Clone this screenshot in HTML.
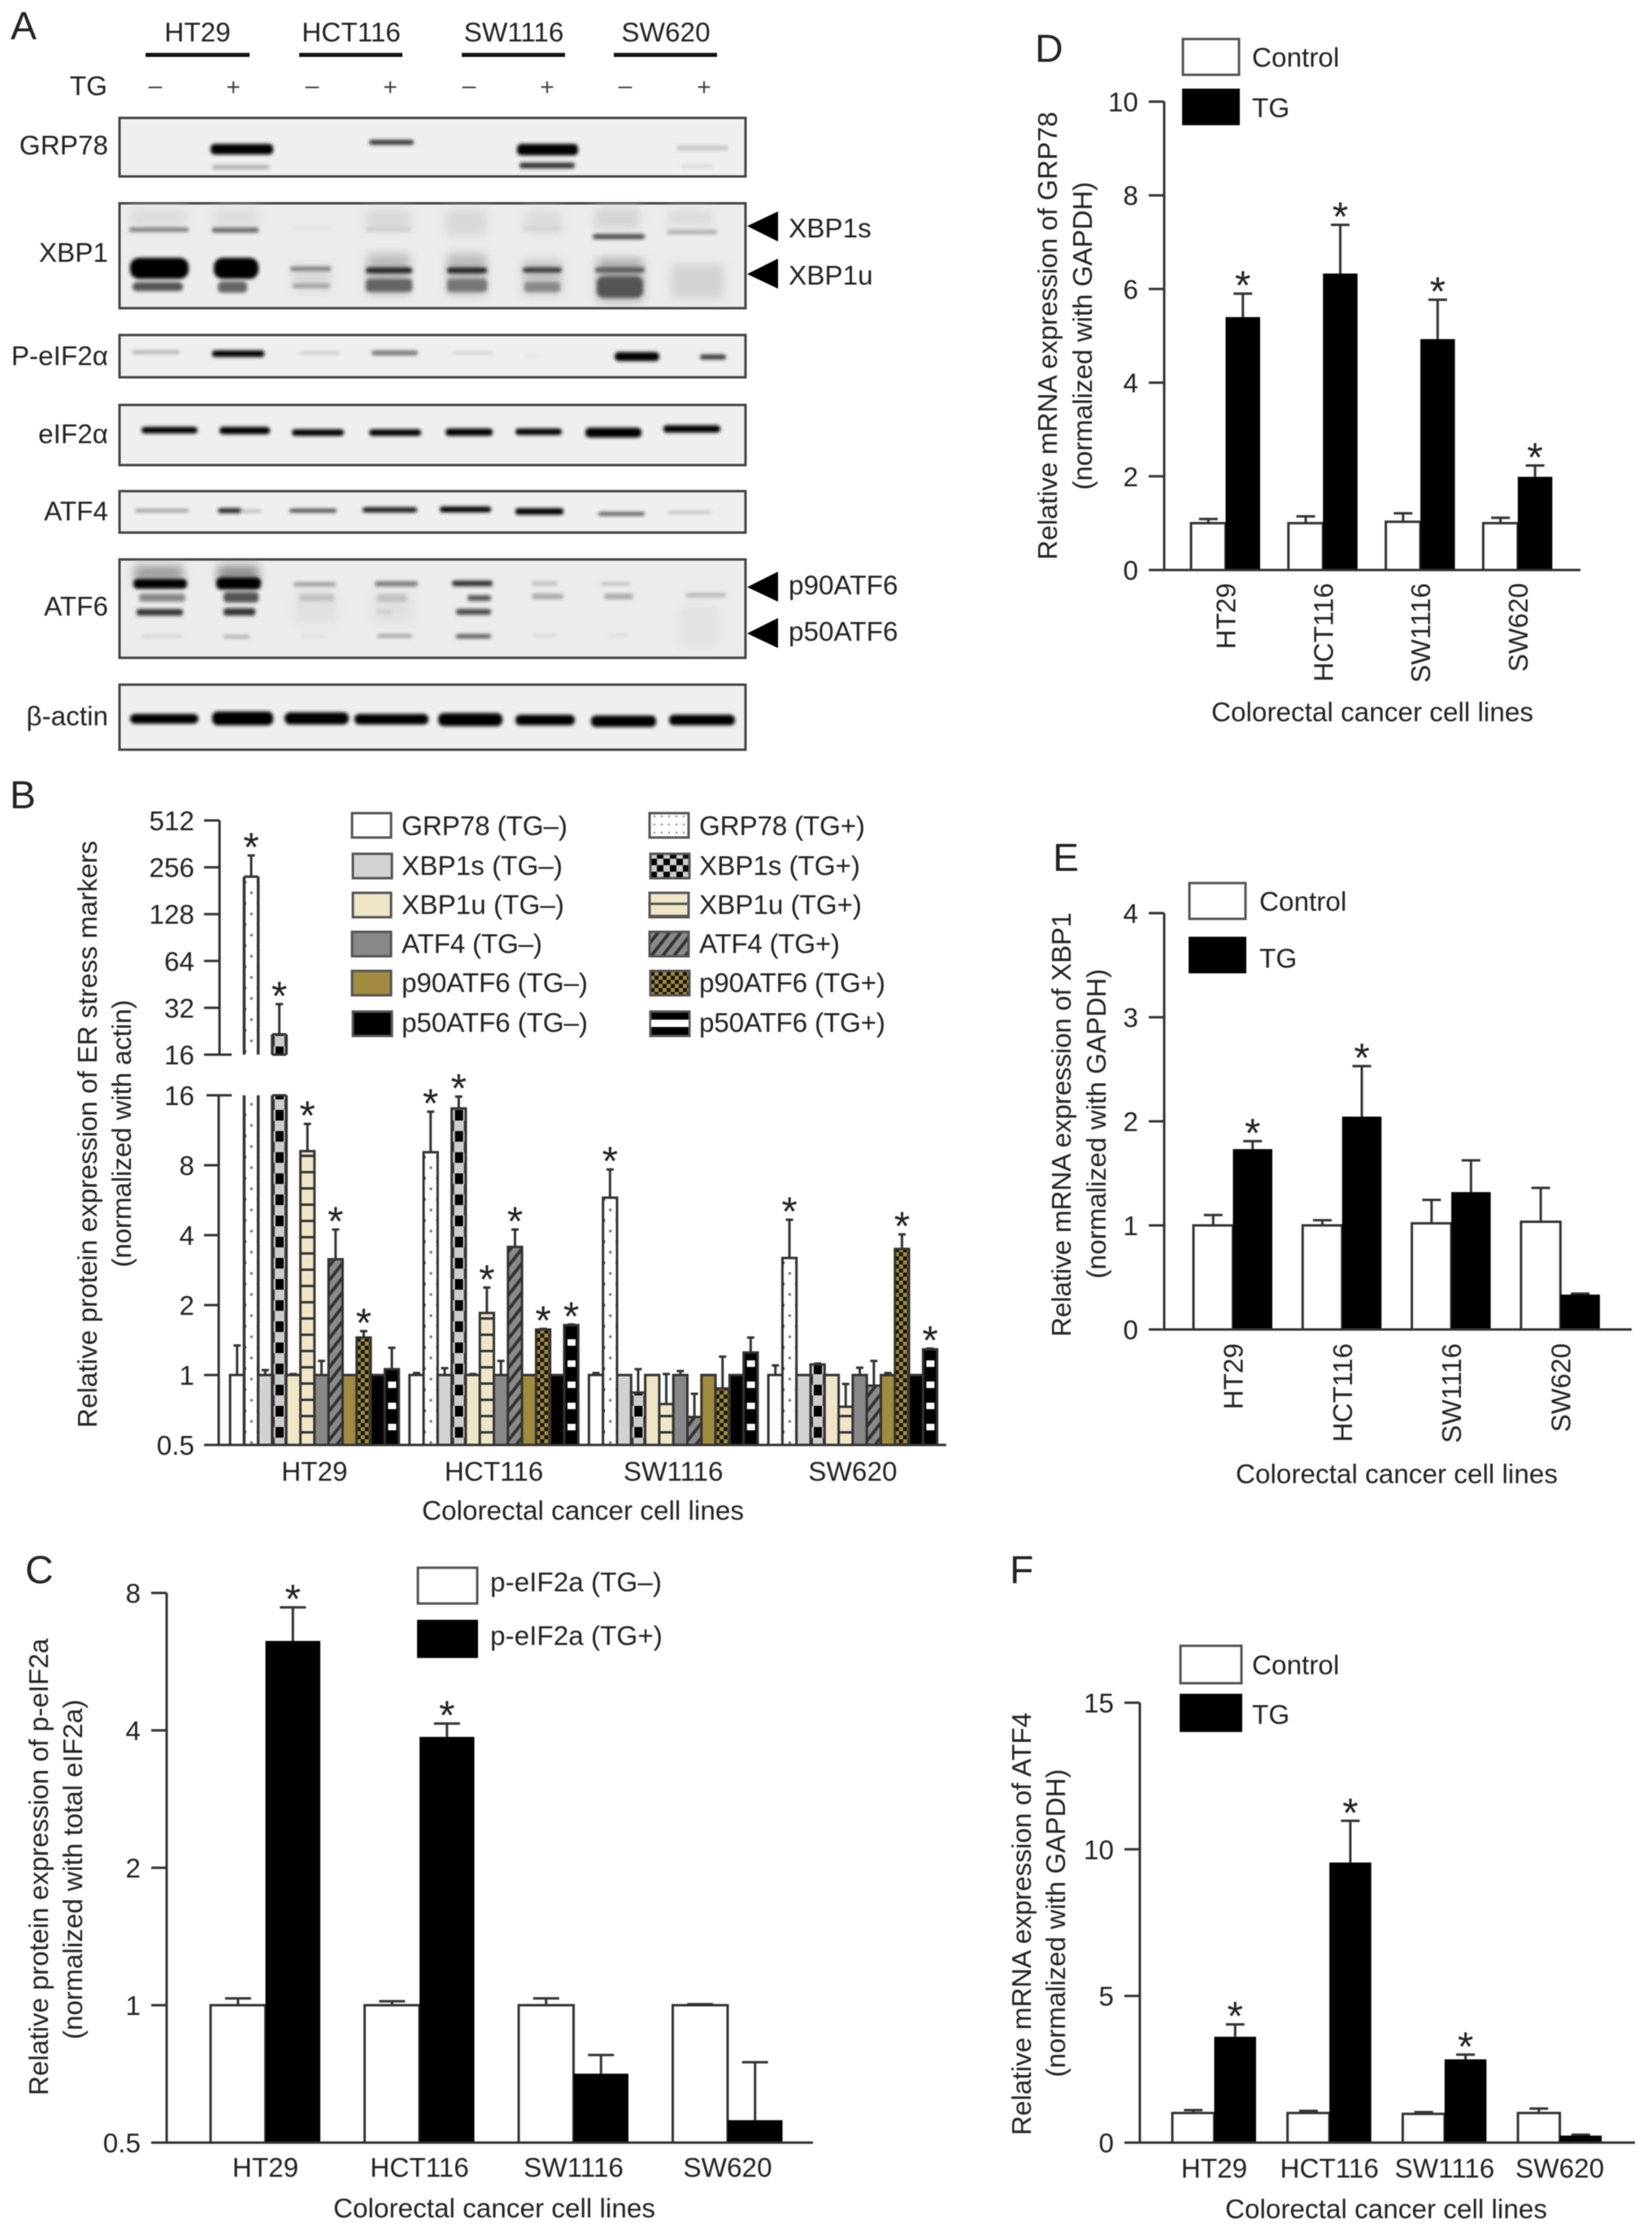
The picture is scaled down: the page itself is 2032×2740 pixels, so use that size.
<!DOCTYPE html>
<html lang="en">
<head>
<meta charset="utf-8">
<title>ER stress markers in colorectal cancer cell lines</title>
<style>
html,body{margin:0;padding:0;background:#fff;}
svg{display:block;filter:blur(0.6px);}
text{font-family:"Liberation Sans",Arial,sans-serif;fill:#222;font-size:33.3px;}
.letter{font-size:48px;}
</style>
</head>
<body>
<svg id="figure" xmlns="http://www.w3.org/2000/svg" width="2032" height="2740" viewBox="0 0 2032 2740">
<defs>
<filter id="b1" x="-30%" y="-200%" width="160%" height="500%"><feGaussianBlur stdDeviation="2.1"/></filter>
<filter id="b4" x="-30%" y="-100%" width="160%" height="300%"><feGaussianBlur stdDeviation="6"/></filter>
<pattern id="pat-grp78" patternUnits="userSpaceOnUse" width="18" height="26"><rect width="18" height="26" fill="#fff"/><circle cx="9" cy="6" r="1.7" fill="#777"/><circle cx="0" cy="19" r="2.6" fill="#222"/><circle cx="18" cy="19" r="2.6" fill="#222"/></pattern>
<pattern id="pat-xbp1s" patternUnits="userSpaceOnUse" width="18" height="26"><rect width="18" height="26" fill="#ccc"/><rect x="4" y="13" width="10" height="13" fill="#000"/><rect x="0" y="0" width="3" height="13" fill="#333"/><rect x="15" y="0" width="3" height="13" fill="#333"/></pattern>
<pattern id="pat-xbp1u" patternUnits="userSpaceOnUse" width="10" height="20"><rect width="10" height="20" fill="#efe6c8"/><rect width="10" height="3" fill="#333"/></pattern>
<pattern id="pat-atf4" patternUnits="userSpaceOnUse" width="10" height="11" patternTransform="rotate(-52)"><rect width="10" height="11" fill="#8a8a8a"/><rect width="10" height="4" fill="#333"/></pattern>
<pattern id="pat-p90" patternUnits="userSpaceOnUse" width="10" height="10"><rect width="10" height="10" fill="#15130a"/><rect width="5" height="5" fill="#a08b3e"/><rect x="5" y="5" width="5" height="5" fill="#a08b3e"/></pattern>
<pattern id="pat-p50" patternUnits="userSpaceOnUse" width="18" height="26"><rect width="18" height="26" fill="#000"/><rect x="4" y="9" width="10" height="8" fill="#fff"/></pattern>
<pattern id="leg-grp78" patternUnits="userSpaceOnUse" width="9" height="10"><rect width="9" height="10" fill="#fff"/><circle cx="4" cy="4" r="1.2" fill="#888"/></pattern>
<pattern id="leg-xbp1s" patternUnits="userSpaceOnUse" width="16" height="16"><rect width="16" height="16" fill="#ccc"/><rect width="8" height="8" fill="#000"/><rect x="8" y="8" width="8" height="8" fill="#000"/></pattern>
<pattern id="leg-xbp1u" patternUnits="userSpaceOnUse" width="10" height="15"><rect width="10" height="15" fill="#efe6c8"/><rect width="10" height="3" fill="#555"/></pattern>
</defs>

<!-- PANEL A -->
<g>
<text class="letter" x="13" y="48">A</text>
<text x="243" y="51" text-anchor="middle">HT29</text>
<text x="432" y="51" text-anchor="middle">HCT116</text>
<text x="632" y="51" text-anchor="middle">SW1116</text>
<text x="819" y="51" text-anchor="middle">SW620</text>
<rect x="179" y="65" width="128" height="5" fill="#111"/>
<rect x="368" y="65" width="127" height="5" fill="#111"/>
<rect x="568" y="65" width="127" height="5" fill="#111"/>
<rect x="755" y="65" width="127" height="5" fill="#111"/>
<text x="132" y="117" text-anchor="end">TG</text>
<g text-anchor="middle">
<text x="191" y="115" style="font-size:30px;fill:#444">–</text>
<text x="287" y="117" style="font-size:30px;fill:#444">+</text>
<text x="384" y="115" style="font-size:30px;fill:#444">–</text>
<text x="480" y="117" style="font-size:30px;fill:#444">+</text>
<text x="577" y="115" style="font-size:30px;fill:#444">–</text>
<text x="673" y="117" style="font-size:30px;fill:#444">+</text>
<text x="769" y="115" style="font-size:30px;fill:#444">–</text>
<text x="866" y="117" style="font-size:30px;fill:#444">+</text>
</g>

<g text-anchor="end">
<text x="133" y="190">GRP78</text>
<text x="133" y="322">XBP1</text>
<text x="133" y="449">P-eIF2α</text>
<text x="133" y="545">eIF2α</text>
<text x="133" y="640">ATF4</text>
<text x="133" y="757">ATF6</text>
<text x="133" y="892">β-actin</text>
</g>

<rect x="147" y="145" width="770" height="72" fill="#efefef" stroke="#444" stroke-width="3"/>
<g filter="url(#b1)">
<rect x="259" y="177" width="77" height="13" rx="5" fill="#000"/>
<rect x="261" y="203" width="70" height="5" rx="2" fill="#aaa"/>
<rect x="454" y="172" width="55" height="6" rx="3" fill="#333"/>
<rect x="636" y="177" width="75" height="14" rx="5" fill="#000"/>
<rect x="639" y="200" width="68" height="7" rx="3" fill="#333"/>
<rect x="832" y="179" width="64" height="6" rx="3" fill="#c4c4c4"/>
<rect x="838" y="202" width="40" height="5" rx="2" fill="#ddd"/>
</g>

<rect x="147" y="250" width="770" height="129" fill="#ececec" stroke="#444" stroke-width="3"/>
<g filter="url(#b4)">
<rect x="160" y="256" width="70" height="22" fill="#ddd"/>
<rect x="263" y="256" width="55" height="22" fill="#ddd"/>
<rect x="450" y="258" width="55" height="26" fill="#d8d8d8"/>
<rect x="548" y="258" width="50" height="32" fill="#d8d8d8"/>
<rect x="645" y="258" width="46" height="30" fill="#dcdcdc"/>
<rect x="732" y="255" width="55" height="26" fill="#d4d4d4"/>
<rect x="821" y="258" width="55" height="20" fill="#dcdcdc"/>
<rect x="452" y="312" width="52" height="50" fill="#bbb"/>
<rect x="550" y="312" width="48" height="50" fill="#bbb"/>
<rect x="643" y="320" width="48" height="42" fill="#c4c4c4"/>
<rect x="735" y="318" width="56" height="52" fill="#aaa"/>
<rect x="826" y="325" width="64" height="42" fill="#d2d2d2"/>
<rect x="360" y="326" width="46" height="32" fill="#d8d8d8"/>
</g>
<g filter="url(#b1)">
<rect x="159" y="280" width="73" height="5" rx="2" fill="#777"/>
<rect x="261" y="280" width="57" height="6" rx="2" fill="#666"/>
<rect x="358" y="279" width="50" height="3" rx="1" fill="#ddd"/>
<rect x="450" y="279" width="55" height="5" rx="2" fill="#ccc"/>
<rect x="643" y="279" width="48" height="4" rx="2" fill="#d0d0d0"/>
<rect x="729" y="288" width="64" height="6" rx="3" fill="#444"/>
<rect x="821" y="283" width="61" height="5" rx="2" fill="#aaa"/>
<rect x="160" y="317" width="72" height="26" rx="11" fill="#000"/>
<rect x="163" y="347" width="62" height="11" rx="5" fill="#555"/>
<rect x="263" y="317" width="55" height="26" rx="11" fill="#000"/>
<rect x="268" y="346" width="36" height="14" rx="5" fill="#666"/>
<rect x="357" y="328" width="50" height="5" rx="2" fill="#777"/>
<rect x="360" y="349" width="46" height="5" rx="2" fill="#999"/>
<rect x="450" y="329" width="57" height="7" rx="3" fill="#222"/>
<rect x="450" y="343" width="57" height="16" rx="4" fill="#666"/>
<rect x="550" y="329" width="49" height="7" rx="3" fill="#222"/>
<rect x="550" y="343" width="49" height="16" rx="4" fill="#777"/>
<rect x="643" y="329" width="48" height="6" rx="3" fill="#333"/>
<rect x="645" y="347" width="44" height="12" rx="4" fill="#888"/>
<rect x="732" y="329" width="61" height="6" rx="3" fill="#555"/>
<rect x="734" y="340" width="57" height="26" rx="8" fill="#555"/>
</g>

<rect x="147" y="412" width="770" height="52" fill="#efefef" stroke="#444" stroke-width="3"/>
<g filter="url(#b1)">
<rect x="163" y="431" width="58" height="4" rx="2" fill="#aaa"/>
<rect x="261" y="431" width="64" height="8" rx="3" fill="#000"/>
<rect x="368" y="432" width="50" height="4" rx="2" fill="#ccc"/>
<rect x="457" y="431" width="57" height="6" rx="3" fill="#777"/>
<rect x="557" y="432" width="50" height="4" rx="2" fill="#d4d4d4"/>
<rect x="646" y="436" width="15" height="4" rx="2" fill="#ddd"/>
<rect x="756" y="433" width="55" height="11" rx="5" fill="#000"/>
<rect x="861" y="436" width="32" height="6" rx="3" fill="#333"/>
</g>

<rect x="147" y="498" width="770" height="74" fill="#efefef" stroke="#444" stroke-width="3"/>
<g filter="url(#b1)">
<rect x="174" y="525" width="69" height="8" rx="4" fill="#000"/>
<rect x="270" y="525" width="62" height="9" rx="4" fill="#000"/>
<rect x="359" y="528" width="64" height="8" rx="4" fill="#000"/>
<rect x="454" y="528" width="64" height="8" rx="4" fill="#000"/>
<rect x="548" y="527" width="58" height="9" rx="4" fill="#000"/>
<rect x="634" y="527" width="57" height="8" rx="4" fill="#000"/>
<rect x="720" y="526" width="69" height="12" rx="5" fill="#000"/>
<rect x="816" y="523" width="70" height="9" rx="4" fill="#000"/>
</g>

<rect x="147" y="604" width="770" height="51" fill="#efefef" stroke="#444" stroke-width="3"/>
<g filter="url(#b1)">
<rect x="166" y="626" width="66" height="4" rx="2" fill="#999"/>
<rect x="268" y="625" width="30" height="6" rx="3" fill="#222"/>
<rect x="296" y="627" width="25" height="3" rx="1" fill="#aaa"/>
<rect x="356" y="626" width="58" height="4" rx="2" fill="#333"/>
<rect x="446" y="624" width="67" height="6" rx="3" fill="#111"/>
<rect x="541" y="623" width="63" height="7" rx="3" fill="#000"/>
<rect x="634" y="625" width="59" height="8" rx="3" fill="#000"/>
<rect x="736" y="630" width="57" height="4" rx="2" fill="#444"/>
<rect x="821" y="628" width="54" height="4" rx="2" fill="#c4c4c4"/>
</g>

<rect x="147" y="688" width="770" height="121" fill="#ececec" stroke="#444" stroke-width="3"/>
<g filter="url(#b4)">
<rect x="165" y="696" width="60" height="18" fill="#999"/>
<rect x="268" y="696" width="50" height="18" fill="#888"/>
<rect x="363" y="726" width="50" height="40" fill="#e0e0e0"/>
<rect x="458" y="726" width="50" height="40" fill="#e0e0e0"/>
<rect x="835" y="745" width="50" height="50" fill="#e2e2e2"/>
</g>
<g filter="url(#b1)">
<rect x="164" y="712" width="66" height="12" rx="5" fill="#000"/>
<rect x="266" y="710" width="55" height="15" rx="6" fill="#000"/>
<rect x="361" y="716" width="52" height="5" rx="2" fill="#999"/>
<rect x="461" y="715" width="53" height="6" rx="3" fill="#777"/>
<rect x="556" y="714" width="50" height="7" rx="3" fill="#333"/>
<rect x="654" y="715" width="32" height="5" rx="2" fill="#bbb"/>
<rect x="739" y="716" width="36" height="4" rx="2" fill="#bbb"/>
<rect x="171" y="730" width="57" height="10" rx="4" fill="#888"/>
<rect x="275" y="728" width="43" height="13" rx="4" fill="#555"/>
<rect x="368" y="731" width="43" height="8" rx="3" fill="#c0c0c0"/>
<rect x="464" y="731" width="36" height="9" rx="3" fill="#c0c0c0"/>
<rect x="575" y="732" width="29" height="7" rx="3" fill="#555"/>
<rect x="654" y="730" width="39" height="7" rx="3" fill="#aaa"/>
<rect x="743" y="730" width="36" height="7" rx="3" fill="#aaa"/>
<rect x="843" y="729" width="50" height="6" rx="3" fill="#bbb"/>
<rect x="168" y="749" width="57" height="8" rx="3" fill="#333"/>
<rect x="275" y="748" width="39" height="9" rx="3" fill="#333"/>
<rect x="464" y="750" width="18" height="5" rx="2" fill="#ccc"/>
<rect x="561" y="749" width="43" height="7" rx="3" fill="#444"/>
<rect x="175" y="781" width="50" height="3" rx="1" fill="#ccc"/>
<rect x="275" y="781" width="32" height="4" rx="2" fill="#aaa"/>
<rect x="370" y="781" width="30" height="3" rx="1" fill="#d8d8d8"/>
<rect x="464" y="780" width="43" height="4" rx="2" fill="#999"/>
<rect x="561" y="780" width="43" height="5" rx="2" fill="#555"/>
<rect x="655" y="780" width="30" height="3" rx="1" fill="#d4d4d4"/>
<rect x="748" y="780" width="25" height="3" rx="1" fill="#d8d8d8"/>
</g>

<rect x="147" y="842" width="770" height="80" fill="#efefef" stroke="#444" stroke-width="3"/>
<g filter="url(#b1)">
<rect x="160" y="878" width="84" height="12" rx="6" fill="#000"/>
<rect x="261" y="875" width="75" height="17" rx="7" fill="#000"/>
<rect x="350" y="876" width="79" height="15" rx="7" fill="#000"/>
<rect x="436" y="878" width="91" height="13" rx="6" fill="#000"/>
<rect x="539" y="877" width="79" height="16" rx="7" fill="#000"/>
<rect x="634" y="879" width="73" height="13" rx="6" fill="#000"/>
<rect x="727" y="880" width="80" height="14" rx="6" fill="#000"/>
<rect x="823" y="879" width="81" height="13" rx="6" fill="#000"/>
</g>

<polygon points="957,260 919,278 957,297" fill="#000"/>
<polygon points="957,318 919,337 957,355" fill="#000"/>
<polygon points="957,703 919,722 957,740" fill="#000"/>
<polygon points="957,760 919,779 957,797" fill="#000"/>
<text x="970" y="292">XBP1s</text>
<text x="970" y="350">XBP1u</text>
<text x="970" y="731">p90ATF6</text>
<text x="970" y="788">p50ATF6</text>
</g>

<!-- PANEL LETTERS -->
<text class="letter" x="12" y="994">B</text>
<text class="letter" x="31" y="1947">C</text>
<text class="letter" x="1273" y="76">D</text>
<text class="letter" x="1295" y="1071">E</text>
<text class="letter" x="1242" y="1947">F</text>

<!-- AXIS TITLES -->
<g text-anchor="middle">
<text transform="rotate(-90 119 1395)" x="119" y="1395" textLength="722">Relative protein expression of ER stress markers</text>
<text transform="rotate(-90 161 1394)" x="161" y="1394" textLength="329">(normalized with actin)</text>
<text x="717" y="1869">Colorectal cancer cell lines</text>
<text transform="rotate(-90 59 2296)" x="59" y="2296" textLength="562">Relative protein expression of p-eIF2a</text>
<text transform="rotate(-90 101 2299)" x="101" y="2299" textLength="418">(normalized with total eIF2a)</text>
<text x="608" y="2727">Colorectal cancer cell lines</text>
<text transform="rotate(-90 1300 413)" x="1300" y="413" textLength="551">Relative mRNA expression of GRP78</text>
<text transform="rotate(-90 1343 413)" x="1343" y="413" textLength="379">(normalized with GAPDH)</text>
<text x="1688" y="887">Colorectal cancer cell lines</text>
<text transform="rotate(-90 1317 1383)" x="1317" y="1383" textLength="522">Relative mRNA expression of XBP1</text>
<text transform="rotate(-90 1360 1382)" x="1360" y="1382" textLength="381">(normalized with GAPDH)</text>
<text x="1718" y="1824">Colorectal cancer cell lines</text>
<text transform="rotate(-90 1268 2366)" x="1268" y="2366" textLength="520">Relative mRNA expression of ATF4</text>
<text transform="rotate(-90 1310 2365)" x="1310" y="2365" textLength="379">(normalized with GAPDH)</text>
<text x="1705" y="2728">Colorectal cancer cell lines</text>
</g>

<!-- LEGEND B -->
<g stroke="none">
<g stroke="#555" stroke-width="3">
<rect x="433" y="1000" width="48" height="30" fill="#fff"/>
<rect x="434" y="1050" width="48" height="30" fill="#d2d2d2"/>
<rect x="434" y="1098" width="47" height="30" fill="#efe6c8"/>
<rect x="433" y="1146" width="48" height="30" fill="#888"/>
<rect x="433" y="1194" width="48" height="30" fill="#a08b3e"/>
<rect x="434" y="1244" width="48" height="30" fill="#000"/>
<rect x="799" y="1000" width="48" height="30" fill="url(#leg-grp78)"/>
<rect x="800" y="1050" width="48" height="30" fill="url(#leg-xbp1s)"/>
<rect x="799" y="1098" width="48" height="30" fill="url(#leg-xbp1u)"/>
<rect x="799" y="1146" width="48" height="30" fill="url(#pat-atf4)"/>
<rect x="800" y="1194" width="48" height="30" fill="url(#pat-p90)"/>
<rect x="800" y="1244" width="48" height="30" fill="#000"/>
</g>
<rect x="801" y="1254" width="46" height="9" fill="#fff"/>
<text x="494" y="1027" textLength="204">GRP78 (TG–)</text>
<text x="494" y="1076" textLength="198">XBP1s (TG–)</text>
<text x="494" y="1124" textLength="200">XBP1u (TG–)</text>
<text x="494" y="1172" textLength="173">ATF4 (TG–)</text>
<text x="494" y="1220" textLength="229">p90ATF6 (TG–)</text>
<text x="494" y="1269" textLength="229">p50ATF6 (TG–)</text>
<text x="860" y="1027" textLength="204">GRP78 (TG+)</text>
<text x="860" y="1076" textLength="198">XBP1s (TG+)</text>
<text x="860" y="1124" textLength="200">XBP1u (TG+)</text>
<text x="860" y="1172" textLength="173">ATF4 (TG+)</text>
<text x="860" y="1220" textLength="229">p90ATF6 (TG+)</text>
<text x="860" y="1269" textLength="229">p50ATF6 (TG+)</text>
</g>

<!-- LEGEND C -->
<g>
<rect x="514" y="1928" width="73" height="44" fill="#fff" stroke="#555" stroke-width="3"/>
<rect x="513" y="1992" width="75" height="47" fill="#000"/>
<text x="603" y="1957">p-eIF2a (TG–)</text>
<text x="603" y="2023">p-eIF2a (TG+)</text>
</g>

<!-- LEGEND D -->
<g>
<rect x="1455" y="48" width="69" height="44" fill="#fff" stroke="#555" stroke-width="3"/>
<rect x="1454" y="109" width="71" height="45" fill="#000"/>
<text x="1540" y="82">Control</text>
<text x="1540" y="144">TG</text>
</g>

<!-- LEGEND E -->
<g>
<rect x="1463" y="1086" width="69" height="44" fill="#fff" stroke="#555" stroke-width="3"/>
<rect x="1462" y="1152" width="71" height="45" fill="#000"/>
<text x="1549" y="1120">Control</text>
<text x="1549" y="1190">TG</text>
</g>

<!-- LEGEND F -->
<g>
<rect x="1452" y="2024" width="75" height="46" fill="#fff" stroke="#555" stroke-width="3"/>
<rect x="1451" y="2083" width="77" height="47" fill="#000"/>
<text x="1540" y="2059">Control</text>
<text x="1540" y="2120">TG</text>
</g>

<g id="charts"></g>
</svg>

<script>
/* ---------- shared ---------- */
const categories = ['HT29', 'HCT116', 'SW1116', 'SW620'];

/* ---------- panel B values ---------- */
const bTicksUpper = [512, 256, 128, 64, 32, 16];
const bTicksLower = [16, 8, 4, 2, 1, 0.5];
const bGrp78Neg = [1, 1, 1, 1];
const bGrp78NegErr = [1.34, 1.02, 1.02, 1.1];
const bGrp78Pos = [223, 9.1, 5.8, 3.19];
const bGrp78PosErr = [305, 13.6, 7.67, 4.66];
const bGrp78Star = [1, 1, 1, 1];
const bXbp1sNeg = [1, 1, 1, 1];
const bXbp1sNegErr = [1.05, 1.07, 1, 1];
const bXbp1sPos = [21.6, 14.05, 0.84, 1.11];
const bXbp1sPosErr = [33.8, 15.8, 1.06, 1.12];
const bXbp1sStar = [1, 1, 0, 0];
const bXbp1uNeg = [1, 1, 1, 1];
const bXbp1uNegErr = [1.01, 1.01, 1, 1];
const bXbp1uPos = [9.2, 1.85, 0.75, 0.73];
const bXbp1uPosErr = [12.05, 2.38, 1.01, 0.915];
const bXbp1uStar = [1, 1, 0, 0];
const bAtf4Neg = [1, 1, 1, 1];
const bAtf4NegErr = [1.15, 1.15, 1.04, 1.075];
const bAtf4Pos = [3.15, 3.56, 0.66, 0.9];
const bAtf4PosErr = [4.23, 4.23, 0.83, 1.15];
const bAtf4Star = [1, 1, 0, 0];
const bP90Neg = [1, 1, 1, 1];
const bP90NegErr = [1, 1, 1, 1.02];
const bP90Pos = [1.45, 1.57, 0.875, 3.49];
const bP90PosErr = [1.545, 1.58, 1.2, 4.03];
const bP90Star = [1, 1, 0, 1];
const bP50Neg = [1, 1, 1, 1];
const bP50NegErr = [1, 1, 1, 1];
const bP50Pos = [1.06, 1.64, 1.25, 1.29];
const bP50PosErr = [1.31, 1.65, 1.45, 1.3];
const bP50Star = [0, 1, 0, 1];

/* ---------- panel C values ---------- */
const cTicks = [8, 4, 2, 1, 0.5];
const cNeg = [1, 1, 1, 1];
const cNegErr = [1.035, 1.02, 1.035, 1.005];
const cPos = [6.28, 3.87, 0.708, 0.56];
const cPosErr = [7.44, 4.14, 0.778, 0.75];
const cStar = [1, 1, 0, 0];

/* ---------- panel D values ---------- */
const dTicks = [10, 8, 6, 4, 2, 0];
const dControl = [1, 1, 1.03, 1];
const dControlErr = [1.09, 1.146, 1.21, 1.116];
const dTG = [5.4, 6.33, 4.93, 1.99];
const dTGErr = [5.9, 7.37, 5.77, 2.23];
const dStar = [1, 1, 1, 1];

/* ---------- panel E values ---------- */
const eTicks = [4, 3, 2, 1, 0];
const eControl = [1, 1, 1.02, 1.035];
const eControlErr = [1.1, 1.05, 1.245, 1.36];
const eTG = [1.733, 2.045, 1.32, 0.335];
const eTGErr = [1.81, 2.53, 1.625, 0.345];
const eStar = [1, 1, 0, 0];

/* ---------- panel F values ---------- */
const fTicks = [15, 10, 5, 0];
const fControl = [1.01, 1.01, 0.98, 1.01];
const fControlErr = [1.11, 1.08, 1.04, 1.16];
const fTG = [3.61, 9.55, 2.84, 0.24];
const fTGErr = [4.03, 10.97, 3.0, 0.27];
const fStar = [1, 1, 1, 0];

/* ---------- helpers ---------- */
const NS = 'http://www.w3.org/2000/svg';
const chartsRoot = document.getElementById('charts');
const INK = '#333';

function make(tag, attrs, parent) {
  const el = document.createElementNS(NS, tag);
  for (const k in attrs) el.setAttribute(k, attrs[k]);
  parent.appendChild(el);
  return el;
}
function drawLine(x1, y1, x2, y2, parent, name, width) {
  const el = make('line', { x1: x1, y1: y1, x2: x2, y2: y2, stroke: INK, 'stroke-width': width || 3 }, parent);
  
  
  return el;
}
function drawLabel(x, y, str, anchor, parent, name) {
  const el = make('text', { x: x, y: y, 'text-anchor': anchor }, parent);
  el.textContent = str;
  
  
  return el;
}
function drawStar(x, topY, parent) {
  const el = make('text', { x: x, y: topY - 22 + 29, 'text-anchor': 'middle', style: 'font-size:50px' }, parent);
  el.textContent = '*';
  
  
}
function drawError(x, fromY, toY, capW, parent) {
  drawLine(x, fromY, x, toY, parent, 'error-bar-stem');
  drawLine(x - capW / 2, toY, x + capW / 2, toY, parent, 'error-bar-cap');
}

/* ---------- two-series panels ---------- */
function drawPairPanel(cfg) {
  const g = make('g', {}, chartsRoot);
  
  
  const base = cfg.y(cfg.ticks[cfg.ticks.length - 1]);
  categories.forEach(function (cat, i) {
    const x0 = cfg.x0 + i * cfg.step;
    const negTop = cfg.y(cfg.neg[i]);
    const posTop = cfg.y(cfg.pos[i]);
    const negCx = x0 + cfg.barW / 2;
    const posCx = x0 + cfg.barW * 1.5;
    drawError(negCx, negTop, cfg.y(cfg.negErr[i]), cfg.capW, g);
    drawError(posCx, posTop, cfg.y(cfg.posErr[i]), cfg.capW, g);
    const negBar = make('rect', { x: x0, y: negTop, width: cfg.barW, height: base - negTop, fill: '#fff', stroke: INK, 'stroke-width': 3 }, g);
    
    
    const posBar = make('rect', { x: x0 + cfg.barW, y: posTop, width: cfg.barW, height: base - posTop, fill: '#000' }, g);
    
    
    if (cfg.star[i]) drawStar(posCx, cfg.y(cfg.posErr[i]), g);
    if (cfg.rotated) {
      const lx = x0 + cfg.barW + 12;
      const t = make('text', { x: lx, y: cfg.labelY, 'text-anchor': 'end', transform: 'rotate(-90 ' + lx + ' ' + cfg.labelY + ')' }, g);
      t.textContent = cat;
      
      
    } else {
      drawLabel(x0 + cfg.barW, cfg.labelY, cat, 'middle', g, 'category-label');
    }
  });
  drawLine(cfg.axisX, cfg.y(cfg.ticks[0]), cfg.axisX, base, g, 'y-axis-line');
  cfg.ticks.forEach(function (t) {
    drawLine(cfg.tickLeft, cfg.y(t), cfg.axisX, cfg.y(t), g, 'y-axis-tick');
    drawLabel(cfg.tickLeft - 13, cfg.y(t) + 12, String(t), 'end', g, 'y-tick-label');
  });
  drawLine(cfg.tickLeft, base, cfg.right, base, g, 'x-axis-line');
}

function yC(v) { return 2635 - 169 * Math.log2(v / 0.5); }
function yD(v) { return 701 - 57.6 * v; }
function yE(v) { return 1635 - 128 * v; }
function yF(v) { return 2635 - 36.07 * v; }

drawPairPanel({ name: 'panel-c-chart', y: yC, ticks: cTicks, neg: cNeg, negErr: cNegErr, pos: cPos, posErr: cPosErr, star: cStar,
  x0: 259, step: 189.5, barW: 67.5, capW: 32, axisX: 205, tickLeft: 186, right: 1000, labelY: 2677, rotated: false });
drawPairPanel({ name: 'panel-d-chart', y: yD, ticks: dTicks, neg: dControl, negErr: dControlErr, pos: dTG, posErr: dTGErr, star: dStar,
  x0: 1465, step: 119.8, barW: 42.5, capW: 23, axisX: 1432, tickLeft: 1413, right: 1944, labelY: 717, rotated: true });
drawPairPanel({ name: 'panel-e-chart', y: yE, ticks: eTicks, neg: eControl, negErr: eControlErr, pos: eTG, posErr: eTGErr, star: eStar,
  x0: 1468, step: 134.3, barW: 48.5, capW: 23, axisX: 1432, tickLeft: 1413, right: 2007, labelY: 1652, rotated: true });
drawPairPanel({ name: 'panel-f-chart', y: yF, ticks: fTicks, neg: fControl, negErr: fControlErr, pos: fTG, posErr: fTGErr, star: fStar,
  x0: 1442, step: 141.7, barW: 51.5, capW: 23, axisX: 1402, tickLeft: 1383, right: 2011, labelY: 2678, rotated: false });

/* ---------- panel B: broken log2 axis ---------- */
function yBLower(v) { return 1777 - 86 * Math.log2(v / 0.5); }
function yBUpper(v) { return 1297 - 57.6 * Math.log2(v / 16); }
function yB(v) { return v > 16 ? yBUpper(v) : yBLower(v); }

(function drawPanelB() {
  const g = make('g', {}, chartsRoot);
  
  
  const means = [bGrp78Neg, bGrp78Pos, bXbp1sNeg, bXbp1sPos, bXbp1uNeg, bXbp1uPos, bAtf4Neg, bAtf4Pos, bP90Neg, bP90Pos, bP50Neg, bP50Pos];
  const errs = [bGrp78NegErr, bGrp78PosErr, bXbp1sNegErr, bXbp1sPosErr, bXbp1uNegErr, bXbp1uPosErr, bAtf4NegErr, bAtf4PosErr, bP90NegErr, bP90PosErr, bP50NegErr, bP50PosErr];
  const stars = [null, bGrp78Star, null, bXbp1sStar, null, bXbp1uStar, null, bAtf4Star, null, bP90Star, null, bP50Star];
  const names = ['grp78-neg', 'grp78-pos', 'xbp1s-neg', 'xbp1s-pos', 'xbp1u-neg', 'xbp1u-pos', 'atf4-neg', 'atf4-pos', 'p90-neg', 'p90-pos', 'p50-neg', 'p50-pos'];
  const fills = ['#fff', 'url(#pat-grp78)', '#d2d2d2', 'url(#pat-xbp1s)', '#efe6c8', 'url(#pat-xbp1u)', '#888', 'url(#pat-atf4)', '#a08b3e', 'url(#pat-p90)', '#000', 'url(#pat-p50)'];
  const groupStep = 220.7, barW = 17.3, start = 283, base = yBLower(0.5);

  categories.forEach(function (cat, c) {
    means.forEach(function (series, s) {
      const v = series[c];
      const x = start + c * groupStep + s * barW;
      const cx = x + barW / 2;
      const topY = yB(errs[s][c]);
      const sameSegment = (errs[s][c] > 16) === (v > 16);
      if (sameSegment) drawError(cx, yB(v), topY, 9, g);
      const place = 'translate(' + x + ',0)';
      if (v > 16) {
        const low = make('rect', { x: 0, y: 1347, width: barW, height: base - 1347, fill: fills[s], transform: place }, g);
        
        
        const up = make('rect', { x: 0, y: yB(v), width: barW, height: 1297 - yB(v), fill: fills[s], transform: place }, g);
        
        
        drawLine(x, 1347, x, base, g, 'bar-side', 3.5);
        drawLine(x + barW, 1347, x + barW, base, g, 'bar-side', 3.5);
        drawLine(x, yB(v), x, 1297, g, 'bar-side', 3.5);
        drawLine(x + barW, yB(v), x + barW, 1297, g, 'bar-side', 3.5);
        drawLine(x, yB(v), x + barW, yB(v), g, 'bar-top');
        if (s !== 1) {
          drawLine(x, 1297, x + barW, 1297, g, 'bar-bottom');
          drawLine(x, 1347, x + barW, 1347, g, 'bar-top');
        }
      } else {
        const bar = make('rect', { x: 0, y: yB(v), width: barW, height: base - yB(v), fill: fills[s], stroke: INK, 'stroke-width': 3, transform: place }, g);
        
        
      }
      if (stars[s] && stars[s][c]) drawStar(cx, topY, g);
    });
    drawLabel(start + c * groupStep + 6 * barW, 1821, cat, 'middle', g, 'category-label');
  });

  /* axes */
  drawLine(270, yBUpper(512), 270, yBUpper(16), g, 'y-axis-upper-line');
  drawLine(269, yBLower(16), 269, base, g, 'y-axis-lower-line');
  bTicksUpper.forEach(function (t) {
    const y = yBUpper(t);
    drawLine(251, y, t === 16 ? 285 : 270, y, g, 'y-axis-tick');
    drawLabel(239, y + 12, String(t), 'end', g, 'y-tick-label');
  });
  bTicksLower.forEach(function (t) {
    const y = yBLower(t);
    drawLine(t === 16 ? 254 : 251, y, t === 16 ? 285 : 269, y, g, 'y-axis-tick');
    drawLabel(239, y + 12, String(t), 'end', g, 'y-tick-label');
  });
  drawLine(251, base, 1164, base, g, 'x-axis-line');
})();
</script>
</body>
</html>
